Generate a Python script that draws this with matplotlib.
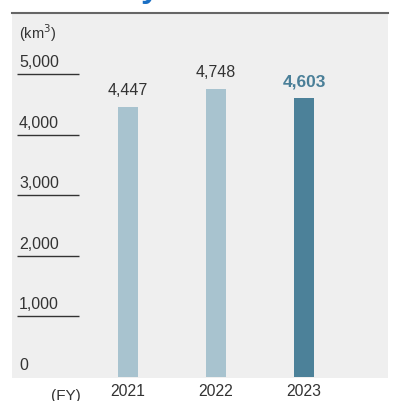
import matplotlib.pyplot as plt

plt.rcParams['font.family'] = ['Liberation Sans', 'DejaVu Sans']

years = ['2021', '2022', '2023']
values = [4447, 4748, 4603]
labels = ['4,447', '4,748', '4,603']
yticks = [1000, 2000, 3000, 4000, 5000]
ytick_labels = ['1,000', '2,000', '3,000', '4,000', '5,000']

W, H = 394, 401
fig = plt.figure(figsize=(W / 100, H / 100), dpi=100)
fig.patch.set_facecolor('white')

# panel area in pixels: x 12..388, y 14..378
ax = fig.add_axes([12 / W, (H - 378) / H, 376 / W, 364 / H])
ax.set_facecolor('#efefef')
for s in ax.spines.values():
    s.set_visible(False)
ax.set_xticks([])
ax.set_yticks([])

px_per_unit = 88.0
x0 = 128.0
ax.set_xlim((12 - x0) / px_per_unit, (388 - x0) / px_per_unit)
ax.set_ylim(-17, 5990)

pos = list(range(len(years)))
colors = ['#a8c3cf', '#a8c3cf', '#4c8199']
ax.bar(pos, values, width=20 / px_per_unit, color=colors, zorder=2)

# short gridline stubs with labels on top
xl0 = (17 - x0) / px_per_unit
xl1 = (79 - x0) / px_per_unit
ax.hlines(yticks, xl0, xl1, color='#333333', lw=1.0)
for v, t in zip(yticks, ytick_labels):
    ax.annotate(t, (xl0, v), xytext=(2, 4), textcoords='offset pixels',
                ha='left', va='bottom', fontsize=11.5, color='#333333')
ax.annotate('0', (xl0, 0), xytext=(2, 4), textcoords='offset pixels',
            ha='left', va='bottom', fontsize=11.5, color='#333333')
ax.annotate('(km$^3$)', (xl0, 5990), xytext=(2, -30), textcoords='offset pixels',
            ha='left', va='bottom', fontsize=10.5, color='#333333')

for i, (v, lab) in enumerate(zip(values, labels)):
    if i == len(values) - 1:
        ax.annotate(lab, (i, v), xytext=(0, 9), textcoords='offset pixels',
                    ha='center', va='bottom', fontsize=12.5, fontweight='bold',
                    color='#4a7f98')
    else:
        ax.annotate(lab, (i, v), xytext=(0, 9), textcoords='offset pixels',
                    ha='center', va='bottom', fontsize=11.5, color='#333333')

# year labels below the panel
for i, y in enumerate(years):
    fig.text((x0 + i * px_per_unit) / W, (H - 392) / H, y, ha='center',
             va='center', fontsize=11.3, color='#333333')
fig.text(66 / W, (H - 396) / H, '(FY)', ha='center', va='center',
         fontsize=11, color='#333333')

# header rule and clipped title glyph
fig.add_artist(plt.Line2D([12 / W, 388 / W], [(H - 13) / H, (H - 13) / H],
                          color='#666666', lw=1.5))
fig.text(141 / W, (H - 4) / H, 'y', ha='left', va='bottom', fontsize=24,
         fontweight='bold', color='#1a6fc4')

fig.savefig('out.png', dpi=100, facecolor=fig.get_facecolor())
